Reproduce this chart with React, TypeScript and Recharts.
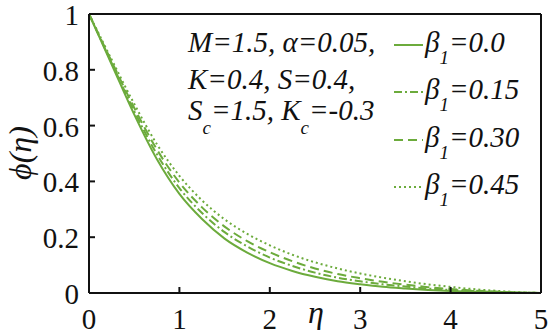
import React from "react";
import { LineChart, Line, XAxis, YAxis } from "recharts";

const etaValues = [0, 0.25, 0.5, 0.75, 1.0, 1.25, 1.5, 1.75, 2.0, 2.25, 2.5, 2.75, 3.0, 3.25, 3.5, 3.75, 4.0, 4.25, 4.5, 4.75, 5.0];
const phiBeta000 = [1.0, 0.82, 0.64, 0.48, 0.355, 0.265, 0.195, 0.145, 0.107, 0.079, 0.058, 0.042, 0.031, 0.022, 0.016, 0.011, 0.007, 0.0045, 0.0025, 0.001, 0];
const phiBeta015 = [1.0, 0.825, 0.652, 0.498, 0.376, 0.287, 0.218, 0.167, 0.127, 0.097, 0.073, 0.055, 0.042, 0.031, 0.023, 0.016, 0.011, 0.007, 0.004, 0.0015, 0];
const phiBeta030 = [1.0, 0.83, 0.664, 0.515, 0.396, 0.307, 0.238, 0.186, 0.146, 0.114, 0.088, 0.068, 0.053, 0.04, 0.03, 0.021, 0.014, 0.009, 0.005, 0.002, 0];
const phiBeta045 = [1.0, 0.837, 0.678, 0.534, 0.42, 0.332, 0.264, 0.212, 0.171, 0.137, 0.11, 0.088, 0.07, 0.055, 0.042, 0.031, 0.022, 0.014, 0.008, 0.003, 0];

const xTicks = [0, 1, 2, 3, 4, 5];
const yTicks = [0, 0.2, 0.4, 0.6, 0.8, 1];
const yTickLabels = ["0", "0.2", "0.4", "0.6", "0.8", "1"];
const legendLabels = ["0.0", "0.15", "0.30", "0.45"];

const GREEN = "#6cab3c";
const FS = 29;
const FAM = "Liberation Serif";
const CSS = `text, tspan { font-family: "Liberation Serif", "Tinos", "Times New Roman" !important; }`;

const series = [
  { key: "b0", values: phiBeta000, dash: undefined as string | undefined, label: legendLabels[0] },
  { key: "b1", values: phiBeta015, dash: "8 3 2 3", label: legendLabels[1] },
  { key: "b2", values: phiBeta030, dash: "9 5", label: legendLabels[2] },
  { key: "b3", values: phiBeta045, dash: "2 3", label: legendLabels[3] },
];

const data = etaValues.map((eta, i) => {
  const row: Record<string, number> = { eta };
  series.forEach((s) => {
    row[s.key] = s.values[i];
  });
  return row;
});

const BottomTick = (props: any) => {
  const { x, y, payload } = props;
  return (
    <text x={x} y={y + 36} textAnchor="middle" fontFamily={FAM} fontSize={FS} fill="#111">
      {String(payload.value)}
    </text>
  );
};

const LeftTick = (props: any) => {
  const { x, y, payload } = props;
  const idx = yTicks.indexOf(payload.value);
  return (
    <text x={x - 10} y={y + 11} textAnchor="end" fontFamily={FAM} fontSize={FS} fill="#111">
      {idx >= 0 ? yTickLabels[idx] : String(payload.value)}
    </text>
  );
};

const legendRowsY = [45, 92, 140, 187];

const T = (p: any) => (
  <text fontFamily={FAM} fontStyle="italic" fontSize={FS} fill="#111" {...p} />
);

const tickLineStyle = { stroke: "#111", strokeWidth: 2 };
const axisLineStyle = { stroke: "#111", strokeWidth: 2 };

export default function App() {
  return (
    <div style={{ position: "absolute", left: 0, top: 0, width: 550, height: 335, background: "#fff", fontFamily: `"${FAM}"` }}>
      <style>{CSS}</style>
      <LineChart width={550} height={335} data={data} margin={{ top: 13, right: 8, left: 0, bottom: 0 }}>
        <XAxis
          dataKey="eta"
          type="number"
          domain={[0, 5]}
          ticks={xTicks}
          height={42}
          tickSize={-6}
          tickMargin={6}
          tickLine={tickLineStyle}
          tick={<BottomTick />}
          axisLine={axisLineStyle}
          interval={0}
        />
        <XAxis
          xAxisId="top"
          orientation="top"
          dataKey="eta"
          type="number"
          domain={[0, 5]}
          ticks={xTicks}
          height={1}
          tickSize={-6}
          tickMargin={6}
          tickLine={tickLineStyle}
          tick={false}
          axisLine={axisLineStyle}
          interval={0}
        />
        <YAxis
          type="number"
          domain={[0, 1]}
          ticks={yTicks}
          width={89}
          tickSize={-6}
          tickMargin={6}
          tickLine={tickLineStyle}
          tick={<LeftTick />}
          axisLine={axisLineStyle}
          interval={0}
        />
        <YAxis
          yAxisId="right"
          orientation="right"
          type="number"
          domain={[0, 1]}
          ticks={yTicks}
          width={1}
          tickSize={-6}
          tickMargin={6}
          tickLine={tickLineStyle}
          tick={false}
          axisLine={axisLineStyle}
          interval={0}
        />
        {series.map((s) => (
          <Line
            key={s.key}
            dataKey={s.key}
            type="monotone"
            stroke={GREEN}
            strokeWidth={2}
            strokeDasharray={s.dash}
            dot={false}
            isAnimationActive={false}
          />
        ))}
      </LineChart>
      <svg
        width={550}
        height={335}
        style={{ position: "absolute", left: 0, top: 0, pointerEvents: "none" }}
      >
        <T transform="translate(31,153) rotate(-90)" textAnchor="middle" fontSize={32}>
          ϕ(η)
        </T>
        <T x={316} y={323} textAnchor="middle" fontSize={32}>
          η
        </T>
        <T x={188} y={52}>M=1.5, α=0.05,</T>
        <T x={188} y={89}>K=0.4, S=0.4,</T>
        <T x={188} y={120}>
          <tspan>S</tspan>
          <tspan fontSize={19} dy={14}>c</tspan>
          <tspan dy={-14}>=1.5, K</tspan>
          <tspan fontSize={19} dy={14}>c</tspan>
          <tspan dy={-14}>=-0.3</tspan>
        </T>
        {series.map((s, i) => (
          <g key={s.key}>
            <line
              x1={394}
              x2={423}
              y1={legendRowsY[i]}
              y2={legendRowsY[i]}
              stroke={GREEN}
              strokeWidth={2}
              strokeDasharray={s.dash}
            />
            <T x={425} y={legendRowsY[i] + 7}>
              <tspan>β</tspan>
              <tspan fontSize={19} dy={12}>1</tspan>
              <tspan dy={-12}>={s.label}</tspan>
            </T>
          </g>
        ))}
      </svg>
    </div>
  );
}
